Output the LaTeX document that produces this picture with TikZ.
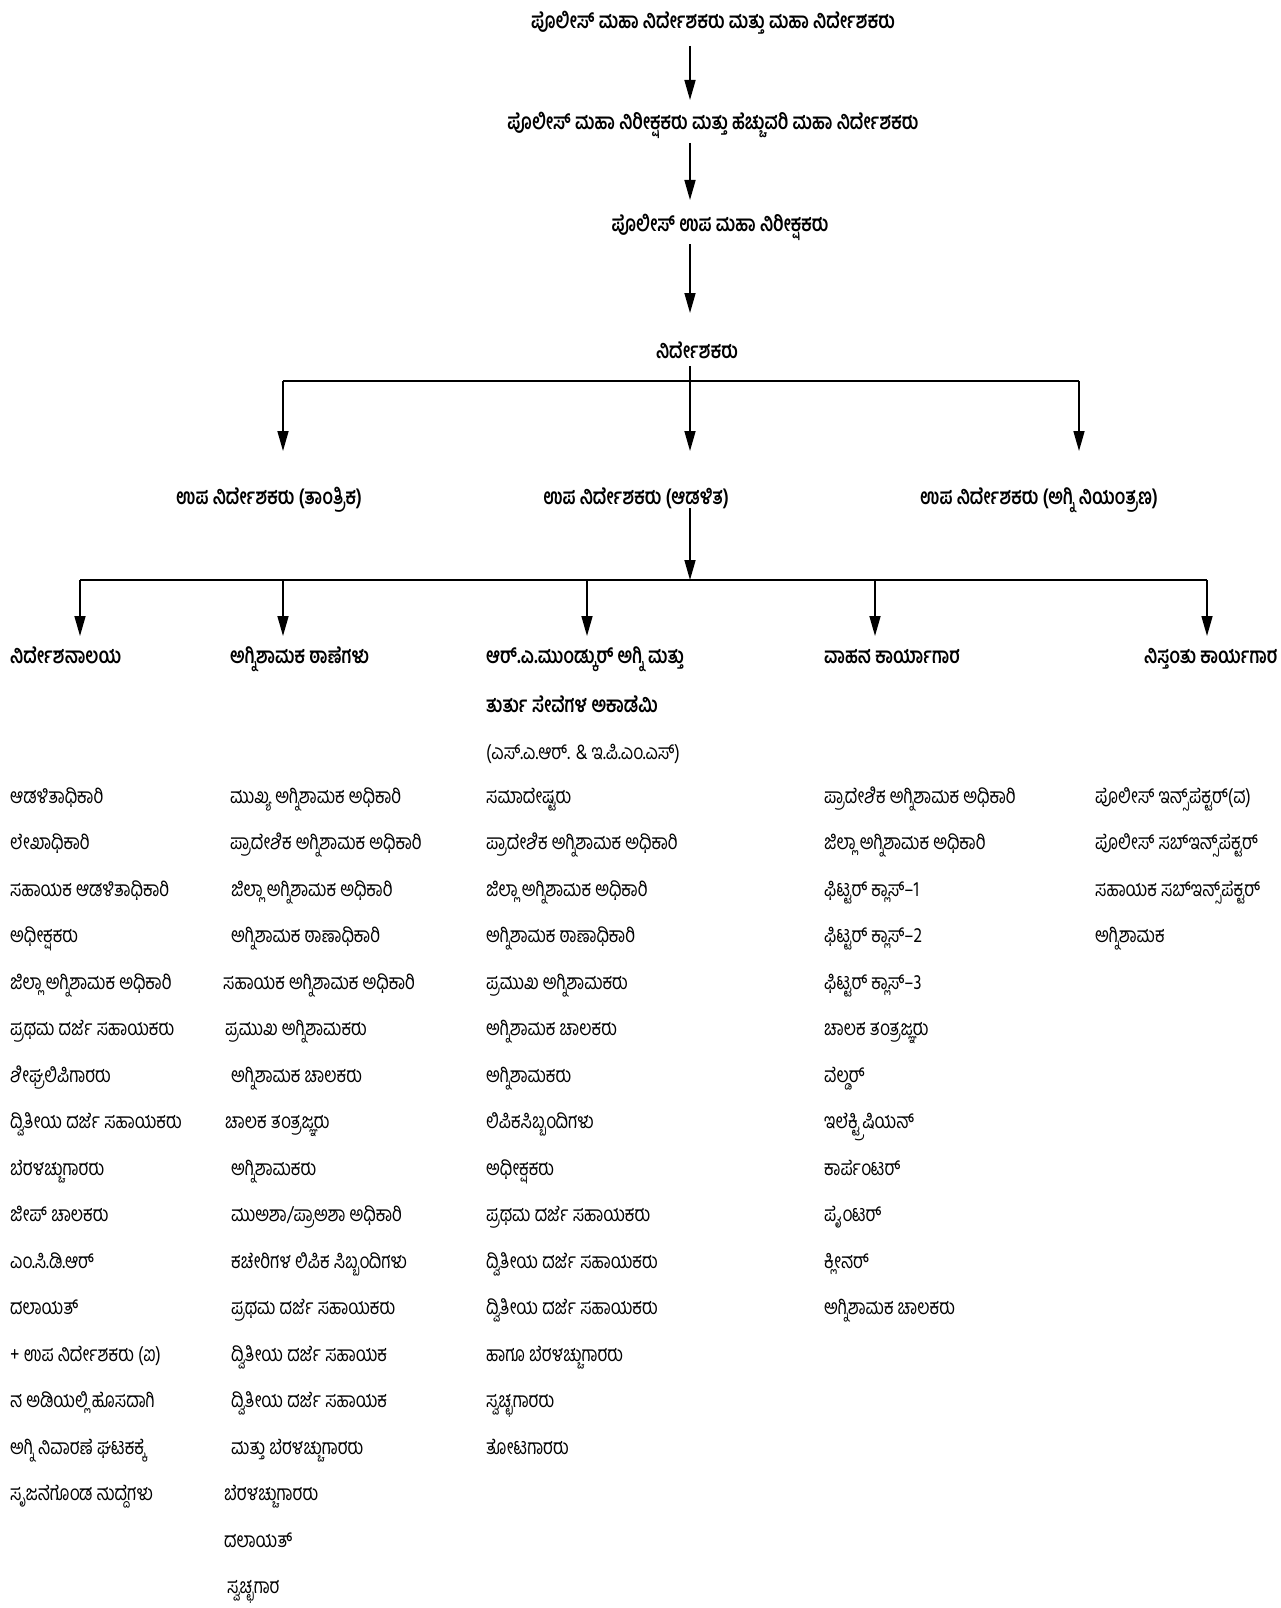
\documentclass[tikz,border=0pt]{standalone}
\usepackage{fontspec}
\usetikzlibrary{arrows.meta}
\newfontfamily\kn[Script=Kannada,FakeStretch=0.81]{Hind Mysuru}
\newfontfamily\knh[Script=Kannada,FakeStretch=0.78]{Hind Mysuru}
\begin{document}
\begin{tikzpicture}[x=1pt,y=-1pt,
  hd/.style={font=\knh\bfseries\fontsize{22}{26}\selectfont, inner sep=0pt, anchor=base},
  hdl/.style={hd, anchor=base west},
  it/.style={font=\kn\fontsize{21}{25}\selectfont, inner sep=0pt, anchor=base west},
  ln/.style={line width=1.6pt},
  arr/.style={ln, -{Triangle[length=20pt,width=11pt]}}]
\useasboundingbox (0,0) rectangle (1280,1608);
\fill[white] (0,0) rectangle (1280,1608);
% top chain
\node[hd] (t1) at (713,29) {ಪೊಲೀಸ್ ಮಹಾ ನಿರ್ದೇಶಕರು ಮತ್ತು ಮಹಾ ನಿರ್ದೇಶಕರು};
\node[hd] (t2) at (713,130) {ಪೊಲೀಸ್ ಮಹಾ ನಿರೀಕ್ಷಕರು ಮತ್ತು ಹೆಚ್ಚುವರಿ ಮಹಾ ನಿರ್ದೇಶಕರು};
\node[hd] (t3) at (720,231) {ಪೊಲೀಸ್ ಉಪ ಮಹಾ ನಿರೀಕ್ಷಕರು};
\node[hd] (t4) at (697,358) {ನಿರ್ದೇಶಕರು};
\coordinate (a1s) at (690,46); \coordinate (a1e) at (690,100);
\coordinate (a2s) at (690,143); \coordinate (a2e) at (690,200);
\coordinate (a3s) at (690,244); \coordinate (a3e) at (690,313);
\draw[arr] (a1s) -- (a1e);
\draw[arr] (a2s) -- (a2e);
\draw[arr] (a3s) -- (a3e);
% level 5
\node[hd] (d1) at (269,504) {ಉಪ ನಿರ್ದೇಶಕರು (ತಾಂತ್ರಿಕ)};
\node[hd] (d2) at (636,504) {ಉಪ ನಿರ್ದೇಶಕರು (ಆಡಳಿತ)};
\node[hd] (d3) at (1039,504) {ಉಪ ನಿರ್ದೇಶಕರು (ಅಗ್ನಿ ನಿಯಂತ್ರಣ)};
\coordinate (h1t) at (690,366);
\coordinate (h1) at (690,381);
\coordinate (h1l) at (283,381); \coordinate (h1r) at (1079,381);
\coordinate (d1a) at (283,451); \coordinate (d2a) at (690,451); \coordinate (d3a) at (1079,451);
\draw[ln] (h1l) -- (h1r);
\draw[ln] (h1t) -- (h1);
\draw[arr] (h1l) -- (d1a);
\draw[arr] (h1) -- (d2a);
\draw[arr] (h1r) -- (d3a);
% level 6
\coordinate (h2s) at (690,508);
\coordinate (h2) at (690,580);
\coordinate (h2l) at (80,580); \coordinate (h2r) at (1207,580);
\draw[arr] (h2s) -- (h2);
\draw[ln] (h2l) -- (h2r);
\foreach \xx/\nm in {80/b1,283/b2,587/b3,875/b4,1207/b5}{
  \coordinate (\nm s) at (\xx,580); \coordinate (\nm e) at (\xx,636);
  \draw[arr] (\nm s) -- (\nm e);}
\node[hdl] (u1) at (10,663) {ನಿರ್ದೇಶನಾಲಯ};
\node[hdl] (u2) at (230,663) {ಅಗ್ನಿಶಾಮಕ ಠಾಣೆಗಳು};
\node[hdl] (u3) at (486,663) {ಆರ್.ಎ.ಮುಂಡ್ಕುರ್ ಅಗ್ನಿ ಮತ್ತು};
\node[hdl] (u3b) at (486,712) {ತುರ್ತು ಸೇವೆಗಳ ಅಕಾಡೆಮಿ};
\node[it] (u3c) at (486,759) {(ಎಸ್.ಎ.ಆರ್. \& ಇ.ಪಿ.ಎಂ.ಎಸ್)};
\node[hdl] (u4) at (824,663) {ವಾಹನ ಕಾರ್ಯಾಗಾರ};
\node[hdl] (u5) at (1144,663) {ನಿಸ್ತಂತು ಕಾರ್ಯಗಾರ};
% lists
\foreach \t [count=\i] in {ಆಡಳಿತಾಧಿಕಾರಿ,ಲೇಖಾಧಿಕಾರಿ,ಸಹಾಯಕ ಆಡಳಿತಾಧಿಕಾರಿ,ಅಧೀಕ್ಷಕರು,ಜಿಲ್ಲಾ ಅಗ್ನಿಶಾಮಕ ಅಧಿಕಾರಿ,ಪ್ರಥಮ ದರ್ಜೆ ಸಹಾಯಕರು,ಶೀಘ್ರಲಿಪಿಗಾರರು,ದ್ವಿತೀಯ ದರ್ಜೆ ಸಹಾಯಕರು,ಬೆರಳಚ್ಚುಗಾರರು,ಜೀಪ್ ಚಾಲಕರು,ಎಂ.ಸಿ.ಡಿ.ಆರ್,ದಲಾಯತ್,+ ಉಪ ನಿರ್ದೇಶಕರು (ಐ),ನ ಅಡಿಯಲ್ಲಿ ಹೊಸದಾಗಿ,ಅಗ್ನಿ ನಿವಾರಣೆ ಘಟಕಕ್ಕೆ,ಸೃಜನೆಗೊಂಡ ಹುದ್ದೆಗಳು}
  \node[it] (c1-\i) at (10,{803+(\i-1)*46.5}) {\t};
\foreach \dx/\t [count=\i] in {7/{ಮುಖ್ಯ ಅಗ್ನಿಶಾಮಕ ಅಧಿಕಾರಿ},7/{ಪ್ರಾದೇಶಿಕ ಅಗ್ನಿಶಾಮಕ ಅಧಿಕಾರಿ},8/{ಜಿಲ್ಲಾ ಅಗ್ನಿಶಾಮಕ ಅಧಿಕಾರಿ},8/{ಅಗ್ನಿಶಾಮಕ ಠಾಣಾಧಿಕಾರಿ},0/{ಸಹಾಯಕ ಅಗ್ನಿಶಾಮಕ ಅಧಿಕಾರಿ},2/{ಪ್ರಮುಖ ಅಗ್ನಿಶಾಮಕರು},8/{ಅಗ್ನಿಶಾಮಕ ಚಾಲಕರು},2/{ಚಾಲಕ ತಂತ್ರಜ್ಞರು},8/{ಅಗ್ನಿಶಾಮಕರು},8/{ಮುಅಶಾ/ಪ್ರಾಅಶಾ ಅಧಿಕಾರಿ},8/{ಕಚೇರಿಗಳ ಲಿಪಿಕ ಸಿಬ್ಬಂದಿಗಳು},8/{ಪ್ರಥಮ ದರ್ಜೆ ಸಹಾಯಕರು},8/{ದ್ವಿತೀಯ ದರ್ಜೆ ಸಹಾಯಕ},8/{ದ್ವಿತೀಯ ದರ್ಜೆ ಸಹಾಯಕ},8/{ಮತ್ತು ಬೆರಳಚ್ಚುಗಾರರು},1/{ಬೆರಳಚ್ಚುಗಾರರು},1/{ದಲಾಯತ್},4/{ಸ್ವಚ್ಛಗಾರ}}
  \node[it] (c2-\i) at ({223+\dx},{803+(\i-1)*46.5}) {\t};
\foreach \t [count=\i] in {ಸಮಾದೇಷ್ಟರು,ಪ್ರಾದೇಶಿಕ ಅಗ್ನಿಶಾಮಕ ಅಧಿಕಾರಿ,ಜಿಲ್ಲಾ ಅಗ್ನಿಶಾಮಕ ಅಧಿಕಾರಿ,ಅಗ್ನಿಶಾಮಕ ಠಾಣಾಧಿಕಾರಿ,ಪ್ರಮುಖ ಅಗ್ನಿಶಾಮಕರು,ಅಗ್ನಿಶಾಮಕ ಚಾಲಕರು,ಅಗ್ನಿಶಾಮಕರು,ಲಿಪಿಕಸಿಬ್ಬಂದಿಗಳು,ಅಧೀಕ್ಷಕರು,ಪ್ರಥಮ ದರ್ಜೆ ಸಹಾಯಕರು,ದ್ವಿತೀಯ ದರ್ಜೆ ಸಹಾಯಕರು,ದ್ವಿತೀಯ ದರ್ಜೆ ಸಹಾಯಕರು,ಹಾಗೂ ಬೆರಳಚ್ಚುಗಾರರು,ಸ್ವಚ್ಛಗಾರರು,ತೋಟಗಾರರು}
  \node[it] (c3-\i) at (486,{803+(\i-1)*46.5}) {\t};
\foreach \t [count=\i] in {ಪ್ರಾದೇಶಿಕ ಅಗ್ನಿಶಾಮಕ ಅಧಿಕಾರಿ,ಜಿಲ್ಲಾ ಅಗ್ನಿಶಾಮಕ ಅಧಿಕಾರಿ,ಫಿಟ್ಟರ್ ಕ್ಲಾಸ್–1,ಫಿಟ್ಟರ್ ಕ್ಲಾಸ್–2,ಫಿಟ್ಟರ್ ಕ್ಲಾಸ್–3,ಚಾಲಕ ತಂತ್ರಜ್ಞರು,ವೆಲ್ಡರ್,ಇಲೆಕ್ಟ್ರಿಷಿಯನ್,ಕಾರ್ಪೆಂಟರ್,ಪೈಂಟರ್,ಕ್ಲೀನರ್,ಅಗ್ನಿಶಾಮಕ ಚಾಲಕರು}
  \node[it] (c4-\i) at (824,{803+(\i-1)*46.5}) {\t};
\foreach \t [count=\i] in {ಪೊಲೀಸ್ ಇನ್ಸ್‌ಪೆಕ್ಟರ್(ವ),ಪೊಲೀಸ್ ಸಬ್‌ಇನ್ಸ್‌ಪೆಕ್ಟರ್,ಸಹಾಯಕ ಸಬ್‌ಇನ್ಸ್‌ಪೆಕ್ಟರ್,ಅಗ್ನಿಶಾಮಕ}
  \node[it] (c5-\i) at (1095,{803+(\i-1)*46.5}) {\t};
\end{tikzpicture}
\end{document}
